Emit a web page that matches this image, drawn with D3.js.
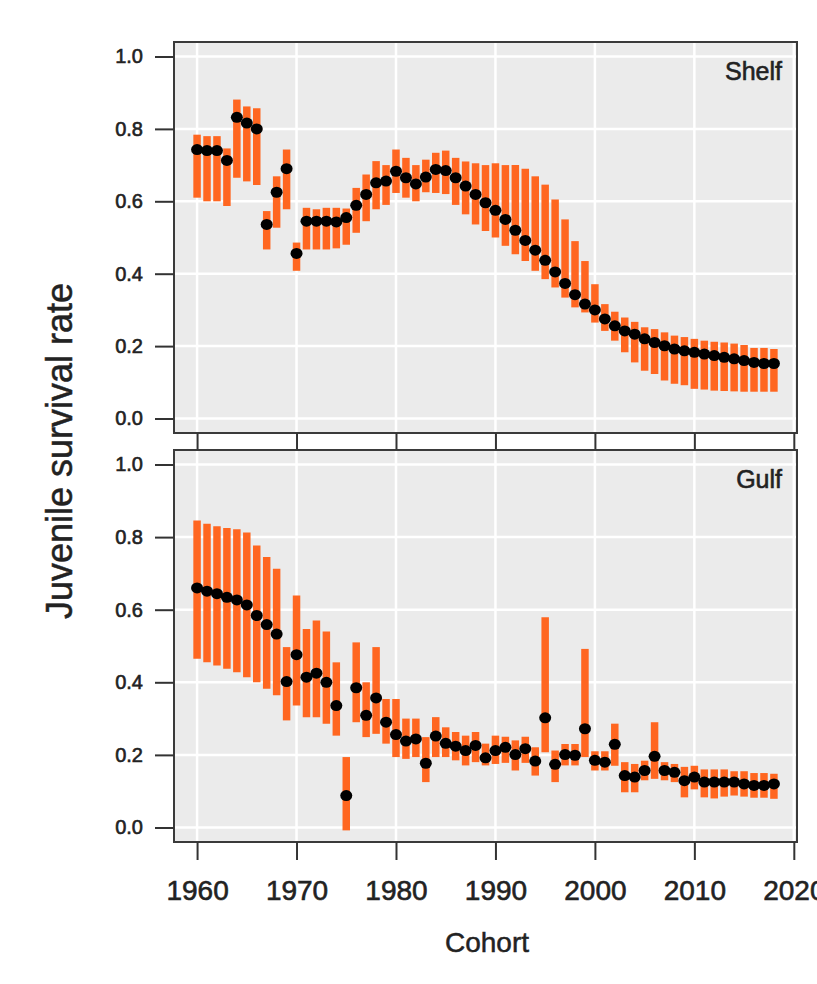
<!DOCTYPE html>
<html>
<head>
<meta charset="utf-8">
<script src="https://cdn.jsdelivr.net/npm/d3@7"></script>
<style>
  body { margin: 0; background: #fff; }
  text { font-family: "Liberation Sans", Arial, sans-serif; fill: #222; }
</style>
</head>
<body>
<div id="chart"></div>
<script>
// cohort years 1960..2018
const years = d3.range(1960, 2019);

const shelfMid = [0.743, 0.74, 0.74, 0.713, 0.832, 0.816, 0.80, 0.536, 0.625, 0.69,
  0.456, 0.545, 0.545, 0.545, 0.543, 0.555, 0.589, 0.619, 0.651, 0.656,
  0.683, 0.665, 0.648, 0.667, 0.688, 0.685, 0.665, 0.642, 0.619, 0.596,
  0.575, 0.55, 0.52, 0.492, 0.465, 0.437, 0.405, 0.373, 0.342, 0.316,
  0.300, 0.275, 0.256, 0.242, 0.233, 0.22, 0.21, 0.201, 0.192, 0.187,
  0.183, 0.178, 0.174, 0.169, 0.165, 0.16, 0.155, 0.152, 0.152];
const shelfLo = [0.61, 0.60, 0.60, 0.587, 0.665, 0.655, 0.645, 0.467, 0.527, 0.578,
  0.408, 0.467, 0.467, 0.467, 0.47, 0.48, 0.513, 0.545, 0.578, 0.59,
  0.623, 0.61, 0.60, 0.625, 0.623, 0.62, 0.59, 0.564, 0.536, 0.518,
  0.50, 0.477, 0.454, 0.435, 0.408, 0.385, 0.362, 0.334, 0.307, 0.293,
  0.265, 0.242, 0.215, 0.183, 0.155, 0.132, 0.123, 0.105, 0.096, 0.092,
  0.082, 0.08, 0.077, 0.076, 0.075, 0.074, 0.074, 0.074, 0.074];
const shelfHi = [0.784, 0.78, 0.78, 0.746, 0.881, 0.862, 0.857, 0.573, 0.669, 0.743,
  0.486, 0.582, 0.578, 0.582, 0.582, 0.58, 0.637, 0.674, 0.711, 0.70,
  0.743, 0.72, 0.70, 0.715, 0.734, 0.74, 0.72, 0.71, 0.705, 0.70,
  0.705, 0.70, 0.70, 0.69, 0.669, 0.646, 0.605, 0.55, 0.49, 0.435,
  0.371, 0.316, 0.295, 0.279, 0.267, 0.252, 0.247, 0.238, 0.229, 0.225,
  0.22, 0.215, 0.212, 0.21, 0.207, 0.203, 0.195, 0.195, 0.192];

const gulfMid = [0.66, 0.651, 0.644, 0.634, 0.627, 0.613, 0.584, 0.559, 0.533, 0.402,
  0.476, 0.414, 0.425, 0.40, 0.336, 0.088, 0.385, 0.309, 0.357, 0.29,
  0.256, 0.238, 0.244, 0.177, 0.252, 0.232, 0.224, 0.212, 0.226, 0.192,
  0.212, 0.221, 0.201, 0.217, 0.183, 0.302, 0.174, 0.201, 0.199, 0.272,
  0.185, 0.18, 0.229, 0.143, 0.139, 0.157, 0.196, 0.157, 0.152, 0.129,
  0.139, 0.125, 0.125, 0.125, 0.125, 0.12, 0.116, 0.116, 0.12];
const gulfLo = [0.465, 0.455, 0.446, 0.437, 0.428, 0.414, 0.40, 0.382, 0.364, 0.295,
  0.336, 0.304, 0.304, 0.286, 0.253, -0.008, 0.29, 0.249, 0.258, 0.231,
  0.194, 0.189, 0.194, 0.125, 0.194, 0.194, 0.185, 0.171, 0.18, 0.171,
  0.175, 0.178, 0.157, 0.178, 0.143, 0.207, 0.125, 0.171, 0.171, 0.194,
  0.157, 0.157, 0.17, 0.097, 0.097, 0.13, 0.134, 0.13, 0.125, 0.083,
  0.105, 0.083, 0.08, 0.085, 0.088, 0.085, 0.082, 0.082, 0.079];
const gulfHi = [0.846, 0.837, 0.83, 0.825, 0.822, 0.813, 0.777, 0.745, 0.713, 0.497,
  0.639, 0.547, 0.57, 0.54, 0.455, 0.194, 0.51, 0.40, 0.497, 0.354,
  0.354, 0.30, 0.30, 0.249, 0.304, 0.276, 0.263, 0.253, 0.263, 0.231,
  0.253, 0.25, 0.24, 0.25, 0.221, 0.579, 0.212, 0.23, 0.23, 0.492,
  0.21, 0.21, 0.286, 0.18, 0.175, 0.184, 0.29, 0.18, 0.175, 0.167,
  0.17, 0.16, 0.16, 0.16, 0.155, 0.155, 0.15, 0.15, 0.148];

const xTicks = [1960, 1970, 1980, 1990, 2000, 2010, 2020];
const yTicks = [0, 0.2, 0.4, 0.6, 0.8, 1.0];

const width = 817, height = 984;
const left = 174, right = 797;
const panels = [
  { name: "Shelf", top: 42, bottom: 433, mid: shelfMid, lo: shelfLo, hi: shelfHi },
  { name: "Gulf", top: 450, bottom: 842, mid: gulfMid, lo: gulfLo, hi: gulfHi }
];

const svg = d3.select("#chart").append("svg")
  .attr("width", width)
  .attr("height", height);

const x = d3.scaleLinear().domain([1957.68, 2020.32]).range([left, right]);

panels.forEach(function(p, pi) {
  const y = d3.scaleLinear().domain([-0.04, 1.04]).range([p.bottom, p.top]);
  const g = svg.append("g");

  g.append("rect")
    .attr("x", left).attr("y", p.top)
    .attr("width", right - left).attr("height", p.bottom - p.top)
    .attr("fill", "#ebebeb");

  // grid
  g.selectAll(".hg").data(yTicks).enter().append("line")
    .attr("x1", left).attr("x2", right)
    .attr("y1", d => y(d)).attr("y2", d => y(d))
    .attr("stroke", "#fff").attr("stroke-width", 2.5);
  g.selectAll(".vg").data(xTicks).enter().append("line")
    .attr("x1", d => x(d)).attr("x2", d => x(d))
    .attr("y1", p.top).attr("y2", p.bottom)
    .attr("stroke", "#fff").attr("stroke-width", 2.5);

  const data = years.map((yr, i) => ({ yr: yr, m: p.mid[i], lo: p.lo[i], hi: p.hi[i] }));

  // intervals
  g.selectAll(".bar").data(data).enter().append("line")
    .attr("x1", d => x(d.yr)).attr("x2", d => x(d.yr))
    .attr("y1", d => y(d.lo)).attr("y2", d => y(d.hi))
    .attr("stroke", "#ff6620").attr("stroke-width", 7.5);

  g.selectAll(".pt").data(data).enter().append("ellipse")
    .attr("cx", d => x(d.yr)).attr("cy", d => y(d.m))
    .attr("rx", 6).attr("ry", 5.5)
    .attr("fill", "#000");

  // border
  g.append("rect")
    .attr("x", left).attr("y", p.top)
    .attr("width", right - left).attr("height", p.bottom - p.top)
    .attr("fill", "none").attr("stroke", "#3a3a3a").attr("stroke-width", 2);

  // y axis
  const yAxis = d3.axisLeft(y).tickValues(yTicks).tickSize(19).tickPadding(12)
    .tickFormat(d3.format(".1f"));
  const ya = g.append("g").attr("transform", `translate(${left},0)`).call(yAxis);
  ya.select(".domain").remove();
  ya.selectAll("line").attr("stroke", "#333").attr("stroke-width", 2);
  ya.selectAll("text")
    .style("font-size", "20px")
    .style("fill", "#222")
    .attr("stroke", "#222").attr("stroke-width", 0.6)
    .style("font-family", "'Liberation Sans', Arial, sans-serif");

  // x ticks
  const tickLen = pi === 0 ? panels[1].top - p.bottom : 18;
  const xAxis = d3.axisBottom(x).tickValues(xTicks).tickSize(tickLen).tickPadding(20)
    .tickFormat(d3.format("d"));
  const xa = g.append("g").attr("transform", `translate(0,${p.bottom})`).call(xAxis);
  xa.select(".domain").remove();
  xa.selectAll("line").attr("stroke", "#333").attr("stroke-width", 2);
  if (pi === 0) {
    xa.selectAll("text").remove();
  } else {
    xa.selectAll("text")
      .style("font-size", "28px")
      .style("fill", "#222")
      .attr("stroke", "#222").attr("stroke-width", 0.6)
      .style("font-family", "'Liberation Sans', Arial, sans-serif");
  }

  g.append("text")
    .attr("x", 782).attr("y", p.top + 38)
    .attr("text-anchor", "end")
    .style("font-size", "25px")
    .attr("stroke", "#222").attr("stroke-width", 0.6)
    .text(p.name);
});

svg.append("text")
  .attr("x", 487).attr("y", 952)
  .attr("text-anchor", "middle")
  .style("font-size", "28px")
  .attr("stroke", "#222").attr("stroke-width", 0.5)
  .text("Cohort");

svg.append("text")
  .attr("transform", "translate(72,451) rotate(-90)")
  .attr("text-anchor", "middle")
  .style("font-size", "36px")
  .attr("stroke", "#222").attr("stroke-width", 0.5)
  .text("Juvenile survival rate");
</script>
</body>
</html>
